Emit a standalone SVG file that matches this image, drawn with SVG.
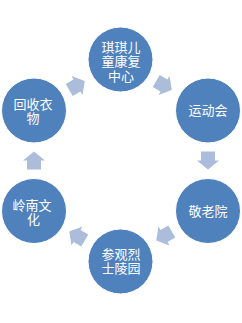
<svg xmlns="http://www.w3.org/2000/svg" width="242" height="323" viewBox="0 0 242 323">
<defs>
<style>
.n{fill:#4f81bd;stroke:#ffffff;stroke-width:1}
.a{fill:#abbddb}
.t{font-family:"Liberation Sans","Noto Sans CJK SC",sans-serif;font-size:13px;fill:#ffffff;text-anchor:middle;dominant-baseline:central}
</style>
<path id="arr" d="M-9,-7 H0 V-11 L9,0 L0,11 V7 H-9 Z"/>
</defs>
<rect width="242" height="323" fill="#ffffff"/>
<g id="connectors" class="a">
<use href="#arr" transform="translate(77,85.5) rotate(-30)"/>
<use href="#arr" transform="translate(164,85.5) rotate(30)"/>
<use href="#arr" transform="translate(208,160.5) rotate(90)"/>
<use href="#arr" transform="translate(164,236) rotate(150)"/>
<use href="#arr" transform="translate(77,236) rotate(210)"/>
<use href="#arr" transform="translate(34,160.5) rotate(270)"/>
</g>
<g id="node1"><circle class="n" cx="120.5" cy="59.5" r="32.5"/><text class="t" x="121" y="47">琪琪儿</text><text class="t" x="121" y="61.5">童康复</text><text class="t" x="121" y="76">中心</text></g>
<g id="node2"><circle class="n" cx="208" cy="110.5" r="32.5"/><text class="t" x="208" y="110.5">运动会</text></g>
<g id="node3"><circle class="n" cx="208" cy="211" r="32.5"/><text class="t" x="208" y="211">敬老院</text></g>
<g id="node4"><circle class="n" cx="120.5" cy="261.5" r="32.5"/><text class="t" x="121" y="254.5">参观烈</text><text class="t" x="121" y="268.5">士陵园</text></g>
<g id="node5"><circle class="n" cx="34" cy="211" r="32.5"/><text class="t" x="32" y="205">岭南文</text><text class="t" x="33.5" y="219">化</text></g>
<g id="node6"><circle class="n" cx="34" cy="110.5" r="32.5"/><text class="t" x="33" y="104">回收衣</text><text class="t" x="33" y="118">物</text></g>
</svg>
